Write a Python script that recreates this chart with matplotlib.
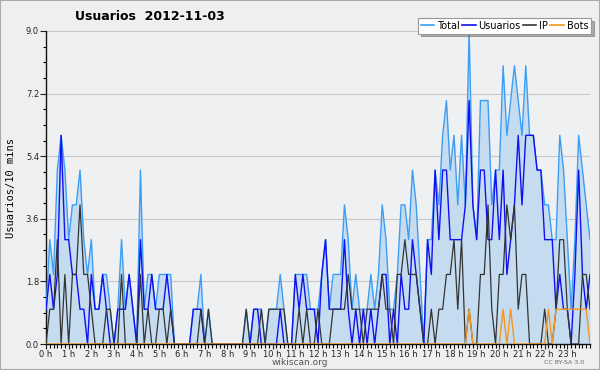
import numpy as np
import matplotlib
matplotlib.use('Agg')
import matplotlib.pyplot as plt
from matplotlib.lines import Line2D
from matplotlib.patches import Rectangle
from matplotlib.ticker import MultipleLocator, FixedLocator


title = 'Usuarios  2012-11-03'
series_names = ['Total', 'Usuarios', 'IP', 'Bots']
hour_labels = ['%d h' % h for h in range(24)]

# one value every 10 minutes, 0 h .. 24 h
usuarios = [
    1, 2, 1, 2, 6, 3,   3, 2, 2, 1, 1, 0,   2, 1, 1, 2, 1, 0,   0, 1, 1, 1, 2, 1,
    0, 3, 1, 1, 2, 1,   1, 1, 2, 1, 0, 0,   0, 0, 0, 1, 1, 1,   0, 0, 0, 0, 0, 0,
    0, 0, 0, 0, 0, 0,   0, 1, 1, 0, 0, 0,   0, 0, 1, 0, 0, 0,   2, 1, 2, 1, 1, 1,
    0, 2, 3, 1, 1, 1,   1, 3, 1, 0, 1, 0,   1, 0, 1, 0, 1, 2,   2, 0, 1, 0, 2, 1,
    1, 3, 2, 1, 0, 3,   2, 5, 3, 5, 5, 3,   3, 3, 3, 4, 7, 4,   3, 5, 5, 3, 3, 5,
    3, 5, 2, 3, 4, 6,   4, 6, 6, 6, 5, 5,   3, 3, 3, 1, 2, 1,   1, 0, 2, 5, 2, 1,
    2,
]
ip = [
    0, 1, 1, 3, 0, 2,   0, 2, 2, 4, 2, 2,   1, 0, 0, 0, 1, 1,   0, 0, 2, 0, 0, 0,
    0, 2, 0, 1, 0, 0,   1, 1, 0, 1, 0, 0,   0, 0, 0, 0, 0, 1,   0, 1, 0, 0, 0, 0,
    0, 0, 0, 0, 0, 1,   0, 0, 0, 1, 0, 1,   1, 1, 1, 1, 0, 0,   0, 1, 0, 1, 0, 0,
    1, 0, 0, 0, 1, 1,   1, 1, 2, 1, 1, 1,   0, 1, 1, 1, 1, 2,   1, 1, 0, 2, 2, 3,
    2, 2, 2, 1, 0, 0,   1, 0, 1, 1, 2, 2,   3, 1, 3, 0, 1, 0,   0, 2, 2, 4, 1, 0,
    2, 2, 4, 3, 4, 1,   2, 2, 0, 0, 0, 0,   1, 0, 0, 1, 3, 3,   1, 0, 0, 0, 2, 2,
    1,
]
bots = [
    0, 0, 0, 0, 0, 0,   0, 0, 0, 0, 0, 0,   0, 0, 0, 0, 0, 0,   0, 0, 0, 0, 0, 0,
    0, 0, 0, 0, 0, 0,   0, 0, 0, 0, 0, 0,   0, 0, 0, 0, 0, 0,   0, 0, 0, 0, 0, 0,
    0, 0, 0, 0, 0, 0,   0, 0, 0, 0, 0, 0,   0, 0, 0, 0, 0, 0,   0, 0, 0, 0, 0, 0,
    0, 0, 0, 0, 0, 0,   0, 0, 0, 0, 0, 0,   0, 0, 0, 0, 0, 0,   0, 0, 0, 0, 0, 0,
    0, 0, 0, 0, 0, 0,   0, 0, 0, 0, 0, 0,   0, 0, 0, 0, 1, 0,   0, 0, 0, 0, 0, 0,
    0, 1, 0, 1, 0, 0,   0, 0, 0, 0, 0, 0,   0, 1, 0, 1, 1, 1,   1, 1, 1, 1, 1, 1,
    0,
]

usuarios = np.array(usuarios)
ip = np.array(ip)
bots = np.array(bots)
total = usuarios + ip + bots
hours = np.arange(len(usuarios)) / 6.0

c_total = '#3d9df5'
c_fill = '#c5dcf0'
c_usu = '#1010f0'
c_ip = '#333333'
c_bots = '#f5961e'
bg = '#efefef'

fig = plt.figure(figsize=(6, 3.7), dpi=100, facecolor=bg)
ax = fig.add_axes([46 / 600, 26 / 370, 544 / 600, 313 / 370])
ax.set_facecolor('#eef0f2')

ax.fill_between(hours, total, 0, color=c_fill, lw=0, zorder=1)
ax.plot(hours, total, color=c_total, lw=1.0, zorder=3)
ax.plot(hours, usuarios, color=c_usu, lw=1.0, zorder=4)
ax.plot(hours, ip, color=c_ip, lw=0.9, zorder=5)
ax.plot(hours, bots, color=c_bots, lw=1.0, zorder=6)

ax.set_xlim(0, 24)
ax.set_ylim(0, 9)
ax.yaxis.set_major_locator(MultipleLocator(1.8))
ax.yaxis.set_minor_locator(MultipleLocator(0.45))
ax.yaxis.set_major_formatter(matplotlib.ticker.FormatStrFormatter('%.1f'))
ax.xaxis.set_major_locator(FixedLocator(range(24)))
ax.xaxis.set_minor_locator(MultipleLocator(1 / 6))
ax.set_xticklabels(hour_labels)
ax.tick_params(axis='both', labelsize=6, colors='#222222', width=0.8)
ax.tick_params(axis='y', which='major', length=4, pad=1)
ax.tick_params(axis='y', which='minor', length=2.5, width=0.8)
ax.tick_params(axis='x', which='major', length=3.5, pad=1)
ax.tick_params(axis='x', which='minor', length=3, width=0.8)

ax.grid(axis='y', which='major', color='#c8c8c8', lw=0.8, zorder=0)
ax.set_axisbelow(True)
for side in ['top', 'right']:
    ax.spines[side].set_visible(False)
for side in ['left', 'bottom']:
    ax.spines[side].set_color('#111111')
    ax.spines[side].set_linewidth(1.0)

ax.set_ylabel('Usuarios/10 mins', family='DejaVu Sans Mono', fontsize=7.5, labelpad=7)

fig.text(0.125, 0.955, title, fontsize=9, fontweight='bold', va='center', ha='left')
fig.text(0.5, 0.02, 'wikiscan.org', fontsize=6.5, color='#555555', ha='center', va='center')
fig.text(0.94, 0.02, 'CC BY-SA 3.0', fontsize=4.5, color='#666666', ha='center', va='center')

handles = [Line2D([], [], color=c, lw=1.2) for c in [c_total, c_usu, c_ip, c_bots]]
leg = fig.legend(handles, series_names, ncol=4, loc='upper right',
                 bbox_to_anchor=(596 / 600, 1 - 13 / 370), fontsize=7,
                 handlelength=1.4, handletextpad=0.3, columnspacing=0.2,
                 borderpad=0.3, fancybox=False, shadow={'color': '#666666'},
                 edgecolor='#999999', framealpha=1)
leg.get_frame().set_linewidth(0.8)

fig.patches.append(Rectangle((0, 0), 1, 1, transform=fig.transFigure, fill=False,
                             edgecolor='#aaaaaa', lw=1.5))

fig.savefig('out.png', dpi=100, facecolor=bg)
